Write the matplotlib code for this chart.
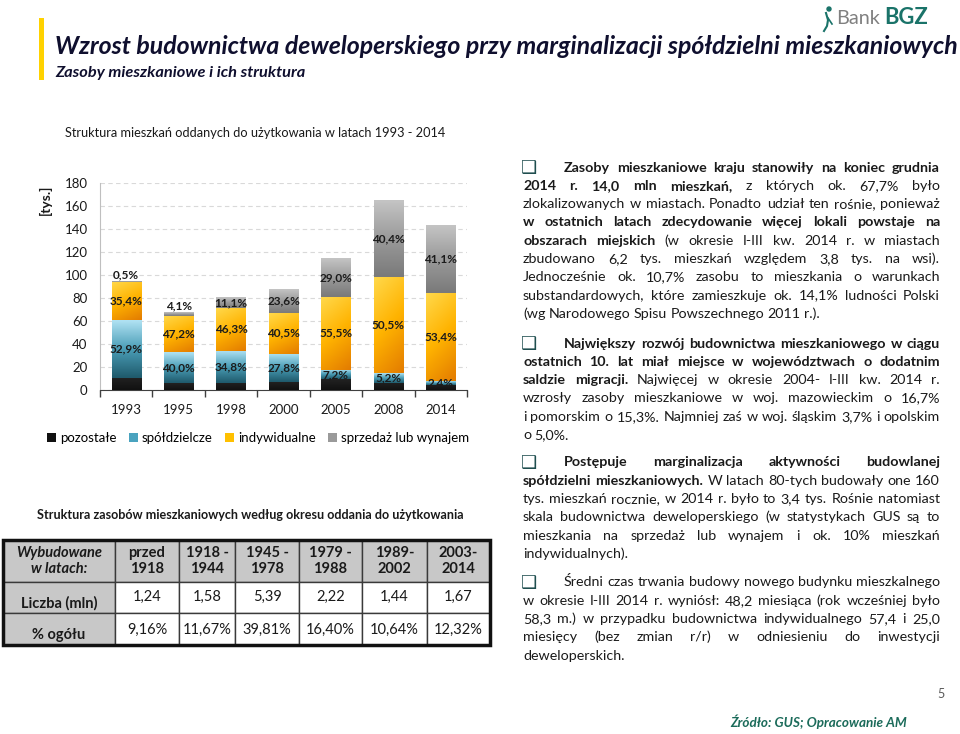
import matplotlib
matplotlib.use("Agg")
import matplotlib.pyplot as plt
import numpy as np
from matplotlib.colors import LinearSegmentedColormap
from matplotlib.patches import Rectangle, Patch

plt.rcParams["font.family"] = ["Lato", "DejaVu Sans"]

# --- dane wykresu (tys. mieszkań, udziały w %) ---
years = ["1993", "1995", "1998", "2000", "2005", "2008", "2014"]
totals = [94.4, 67.1, 80.6, 87.8, 114.1, 165.2, 143.2]
pct_pozostale = [11.2, 8.7, 7.8, 8.1, 8.3, 3.9, 3.1]
pct_spoldzielcze = [52.9, 40.0, 34.8, 27.8, 7.2, 5.2, 2.4]
pct_indywidualne = [35.4, 47.2, 46.3, 40.5, 55.5, 50.5, 53.4]
pct_sprzedaz = [0.5, 4.1, 11.1, 23.6, 29.0, 40.4, 41.1]
series_names = ["pozostałe", "spółdzielcze", "indywidualne", "sprzedaż lub wynajem"]

# --- dane tabeli ---
table_periods = ["przed\n1918", "1918 -\n1944", "1945 -\n1978", "1979 -\n1988", "1989-\n2002", "2003-\n2014"]
table_count = [1.24, 1.58, 5.39, 2.22, 1.44, 1.67]
table_share = [9.16, 11.67, 39.81, 16.40, 10.64, 12.32]

# --- tekst po prawej: linie jako (fragment, pogrubienie) ---
paragraphs = [
    [[("Zasoby mieszkaniowe kraju stanowiły na koniec grudnia", True)],
     [("2014 r. 14,0 mln mieszkań,", True), ("z których ok. 67,7% było", False)],
     [("zlokalizowanych w miastach. Ponadto udział ten rośnie, ponieważ", False)],
     [("w ostatnich latach zdecydowanie więcej lokali powstaje na", True)],
     [("obszarach miejskich", True), ("(w okresie I-III kw. 2014 r. w miastach", False)],
     [("zbudowano 6,2 tys. mieszkań względem 3,8 tys. na wsi).", False)],
     [("Jednocześnie ok. 10,7% zasobu to mieszkania o warunkach", False)],
     [("substandardowych, które zamieszkuje ok. 14,1% ludności Polski", False)],
     [("(wg Narodowego Spisu Powszechnego 2011 r.).", False)]],
    [[("Największy rozwój budownictwa mieszkaniowego w ciągu", True)],
     [("ostatnich 10. lat miał miejsce w województwach o dodatnim", True)],
     [("saldzie migracji.", True), ("Najwięcej w okresie 2004- I-III kw. 2014 r.", False)],
     [("wzrosły zasoby mieszkaniowe w woj. mazowieckim o 16,7%", False)],
     [("i pomorskim o 15,3%. Najmniej zaś w woj. śląskim 3,7% i opolskim", False)],
     [("o 5,0%.", False)]],
    [[("Postępuje marginalizacja aktywności budowlanej", True)],
     [("spółdzielni mieszkaniowych.", True), ("W latach 80-tych budowały one 160", False)],
     [("tys. mieszkań rocznie, w 2014 r. było to 3,4 tys. Rośnie natomiast", False)],
     [("skala budownictwa deweloperskiego (w statystykach GUS są to", False)],
     [("mieszkania na sprzedaż lub wynajem i ok. 10% mieszkań", False)],
     [("indywidualnych).", False)]],
    [[("Średni czas trwania budowy nowego budynku mieszkalnego", False)],
     [("w okresie I-III 2014 r. wyniósł: 48,2 miesiąca (rok wcześniej było", False)],
     [("58,3 m.) w przypadku budownictwa indywidualnego 57,4 i 25,0", False)],
     [("miesięcy (bez zmian r/r) w odniesieniu do inwestycji", False)],
     [("deweloperskich.", False)]],
]
para_tops = [167, 343, 462, 582]

TXT = "#1a1a1a"
NAVY = "#0f0f2e"
W, H = 960, 734

fig = plt.figure(figsize=(W / 100, H / 100), dpi=100)
bg = fig.add_axes([0, 0, 1, 1])
bg.set_xlim(0, W)
bg.set_ylim(H, 0)
bg.axis("off")
renderer = fig.canvas.get_renderer()


def width_of(t):
    return t.get_window_extent(renderer).width


def fit_text(x, y, s, target, size=10, **kw):
    t = bg.text(x, y, s, fontsize=size, **kw)
    t.set_fontsize(size * target / width_of(t))
    return t


# naglowek slajdu
bg.add_patch(Rectangle((39, 18), 5, 62, color="#ffd200", lw=0))
fit_text(55, 47, "Wzrost budownictwa deweloperskiego przy marginalizacji spółdzielni mieszkaniowych",
         900, fontweight="bold", style="italic", color=NAVY, va="center")
fit_text(55, 73, "Zasoby mieszkaniowe i ich struktura", 250,
         fontweight="bold", style="italic", color=NAVY, va="center")
fit_text(836, 18, "Bank", 44, color="#808080", va="center")
fit_text(884, 18, "BGZ", 44, fontweight="bold", color="#1a7369", va="center")
bg.add_patch(plt.Circle((829, 9), 2, color="#1a7369"))
bg.plot([826, 828, 827, 824], [13, 20, 26, 31], color="#1a7369", lw=1.5)
bg.plot([828, 832], [18, 24], color="#1a7369", lw=1.2)

fit_text(65, 133, "Struktura mieszkań oddanych do użytkowania w latach 1993 - 2014", 380,
         color=TXT, va="center")
bg.text(45, 200, "[tys.]", rotation=90, fontsize=10, fontweight="bold", color=TXT,
        ha="center", va="center")

# --- wykres slupkowy ---
ax = fig.add_axes([100 / W, 1 - 390 / H, 367 / W, 207 / H])
x = np.arange(len(years))
tot = np.array(totals)
shares = [pct_pozostale, pct_spoldzielcze, pct_indywidualne, pct_sprzedaz]
cmaps = [
    LinearSegmentedColormap.from_list("k", ["#111111", "#222222"]),
    LinearSegmentedColormap.from_list("b", ["#1f5a6c", "#4a9db6", "#b0e2f3"]),
    LinearSegmentedColormap.from_list("y", ["#e37c00", "#ffb300", "#ffd84a"]),
    LinearSegmentedColormap.from_list("g", ["#7a7a7a", "#9a9a9a", "#c4c4c4"]),
]
solid = ["#111111", "#4aa3bf", "#ffc000", "#9a9a9a"]

bottom = np.zeros(len(years))
containers = []
for name, pct, col in zip(series_names, shares, solid):
    h = tot * np.array(pct) / 100
    bars = ax.bar(x, h, width=0.56, bottom=bottom, color=col, label=name, zorder=2)
    containers.append((bars, h, bottom.copy()))
    bottom = bottom + h

yy = np.linspace(0, 1, 60)[:, None]
xx = np.linspace(0, 1, 20)[None, :]
grads = [yy * np.ones_like(xx), yy * np.ones_like(xx),
         0.75 * yy + 0.25 * (1 - xx), yy * np.ones_like(xx)]
for (bars, h, b), cm, g in zip(containers, cmaps, grads):
    for p in bars:
        x0, y0 = p.get_x(), p.get_y()
        ax.imshow(g, cmap=cm, extent=[x0, x0 + p.get_width(), y0, y0 + p.get_height()],
                  origin="lower", aspect="auto", interpolation="bicubic", zorder=3)

# etykiety procentowe
for (bars, h, b), pct in zip(containers[1:], shares[1:]):
    for i, v in enumerate(pct):
        lab = f"{v:.1f}%".replace(".", ",")
        if v < 5 and pct is pct_sprzedaz:
            y = tot[i] + 6
        else:
            y = b[i] + h[i] / 2
        ax.text(x[i], y, lab, ha="center", va="center", fontsize=8.5, fontweight="bold",
                color="#1b1b1b", zorder=5)

ax.set_xlim(-0.5, len(years) - 0.5)
ax.set_ylim(0, 180)
ax.set_yticks(np.arange(0, 181, 20))
ax.set_xticks(x, years)
ax.set_xticks(np.arange(-0.5, len(years), 1), minor=True)
ax.tick_params(axis="x", which="major", length=0, pad=10, labelsize=9.5, colors=TXT)
ax.tick_params(axis="x", which="minor", length=5, color="#404040", width=1)
ax.tick_params(axis="y", length=0, pad=9, labelsize=9.5, colors=TXT)
ax.grid(axis="y", ls=(0, (4, 3)), color="#d9d9d9", lw=0.8, zorder=0)
for s in ["top", "right"]:
    ax.spines[s].set_visible(False)
ax.spines["left"].set_color("#bfbfbf")
ax.spines["bottom"].set_color("#404040")

handles = [Patch(facecolor=c, edgecolor="none") for c in solid]
fig.legend(handles, series_names, loc="center", bbox_to_anchor=(258 / W, 1 - 438 / H),
           ncol=4, frameon=False, fontsize=9.5, handlelength=0.7, handleheight=0.7,
           handletextpad=0.3, columnspacing=0.9)

# --- tabela ---
fit_text(250, 515, "Struktura zasobów mieszkaniowych według okresu oddania do użytkowania", 430,
         fontweight="bold", color=TXT, ha="center", va="center")
cols = [3, 115, 179, 235, 299, 362, 427, 490]
rows = [540, 582, 613, 645]
for r in range(3):
    for c in range(7):
        fc = "#c8c8c8" if (r == 0 or c == 0) else "white"
        bg.add_patch(Rectangle((cols[c], rows[r]), cols[c + 1] - cols[c], rows[r + 1] - rows[r],
                               facecolor=fc, edgecolor="#3a3a3a", lw=1))
bg.add_patch(Rectangle((cols[0], rows[0]), cols[-1] - cols[0], rows[-1] - rows[0],
                       facecolor="none", edgecolor="#111111", lw=2.5))
bg.text((cols[0] + cols[1]) / 2, 561, "Wybudowane\nw latach:", ha="center", va="center",
        fontsize=10.5, fontweight="bold", style="italic", color=TXT, linespacing=1.25)
bg.text((cols[0] + cols[1]) / 2, 603, "Liczba (mln)", ha="center", va="center",
        fontsize=10.5, fontweight="bold", color=TXT)
bg.text((cols[0] + cols[1]) / 2, 635, "% ogółu", ha="center", va="center",
        fontsize=10.5, fontweight="bold", color=TXT)
for i, (per, cnt, shr) in enumerate(zip(table_periods, table_count, table_share)):
    cx = (cols[i + 1] + cols[i + 2]) / 2
    bg.text(cx, 561, per, ha="center", va="center", fontsize=10.5, fontweight="bold",
            color=TXT, linespacing=1.25)
    bg.text(cx, 597, f"{cnt:.2f}".replace(".", ","), ha="center", va="center",
            fontsize=10.5, color=TXT)
    bg.text(cx, 630, f"{shr:.2f}%".replace(".", ","), ha="center", va="center",
            fontsize=10.5, color=TXT)

# --- tekst wyjustowany po prawej ---
X_LEFT, X_FIRST, X_RIGHT, STEP = 523, 564, 940, 18.3


def words_of(segs):
    out = []
    for txt, bold in segs:
        out += [(w, bold) for w in txt.split()]
    return out


def measure(words, size):
    ws = []
    for w, b in words:
        t = bg.text(0, 0, w, fontsize=size, fontweight="bold" if b else "normal")
        ws.append(width_of(t))
        t.remove()
    return ws


ratios = []
for par in paragraphs:
    for i, segs in enumerate(par[:-1]):
        wds = words_of(segs)
        nat = sum(measure(wds, 10)) + (len(wds) - 1) * 0.23 * 10 * 100 / 72
        avail = X_RIGHT - (X_FIRST if i == 0 else X_LEFT)
        ratios.append(avail / nat)
body_size = min(11.0, 10 * min(ratios) * 0.995)
space = 0.23 * body_size * 100 / 72

for par, top in zip(paragraphs, para_tops):
    bg.text(X_LEFT - 2, top + 1, "❑", family="DejaVu Sans", fontsize=13, color="#1f4e4f",
            ha="left", va="center")
    for i, segs in enumerate(par):
        y = top + i * STEP + 4.5
        x0 = X_FIRST if i == 0 else X_LEFT
        wds = words_of(segs)
        ws = measure(wds, body_size)
        if i < len(par) - 1 and len(wds) > 1:
            gap = (X_RIGHT - x0 - sum(ws)) / (len(wds) - 1)
        else:
            gap = space
        xc = x0
        for (w, b), wd in zip(wds, ws):
            bg.text(xc, y, w, fontsize=body_size, fontweight="bold" if b else "normal",
                    color=TXT, ha="left", va="baseline")
            xc += wd + gap

bg.text(945, 694, "5", fontsize=9, color="#595959", ha="right", va="center")
fit_text(730, 722, "Źródło: GUS; Opracowanie AM", 177, fontweight="bold", style="italic",
         color="#1b6b5a", va="center")

fig.savefig("out.png", dpi=100)
